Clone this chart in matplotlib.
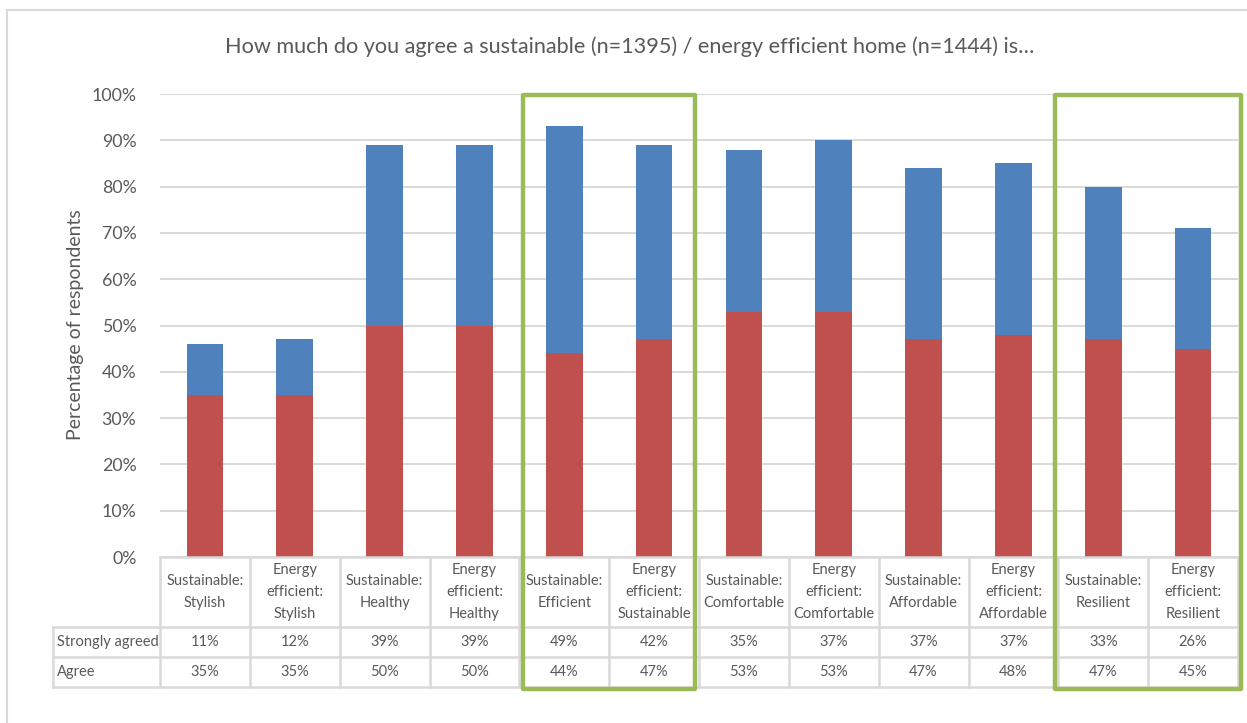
import matplotlib
matplotlib.use("Agg")
import matplotlib.pyplot as plt
from matplotlib.patches import Rectangle
from matplotlib.lines import Line2D
from matplotlib.transforms import blended_transform_factory
from matplotlib.ticker import PercentFormatter

plt.rcParams['font.family'] = ['Lato', 'DejaVu Sans']

# ---- data ----
categories = [
    "Sustainable:\nStylish", "Energy\nefficient:\nStylish",
    "Sustainable:\nHealthy", "Energy\nefficient:\nHealthy",
    "Sustainable:\nEfficient", "Energy\nefficient:\nSustainable",
    "Sustainable:\nComfortable", "Energy\nefficient:\nComfortable",
    "Sustainable:\nAffordable", "Energy\nefficient:\nAffordable",
    "Sustainable:\nResilient", "Energy\nefficient:\nResilient",
]
strongly_agreed = [11, 12, 39, 39, 49, 42, 35, 37, 37, 37, 33, 26]
agree = [35, 35, 50, 50, 44, 47, 53, 53, 47, 48, 47, 45]
row_labels = ["Strongly agreed", "Agree"]
highlight_groups = [(4, 5), (10, 11)]
title = "How much do you agree a sustainable (n=1395) / energy efficient home (n=1444) is\u2026"
ylabel = "Percentage of respondents"

# ---- style ----
RED = "#C0504D"
BLUE = "#4F81BD"
GREEN = "#9BBB59"
GRID = "#D9D9D9"
TEXT = "#595959"

W, H = 1247, 723
fig = plt.figure(figsize=(W / 100, H / 100), dpi=100)


def fx(p):
    return p / W


def fy(p):
    return 1 - p / H


# outer chart frame
fig.add_artist(Line2D([fx(7), fx(7)], [fy(10), 0], color=GRID, lw=1.5))
fig.add_artist(Line2D([fx(7), 1], [fy(10), fy(10)], color=GRID, lw=1.5))

# plot area
left_px, right_px, top_px, bottom_px = 160, 1238, 94, 557
ax = fig.add_axes([fx(left_px), fy(bottom_px),
                   (right_px - left_px) / W, (bottom_px - top_px) / H])
n = len(categories)
x = list(range(n))
agree_f = [v / 100 for v in agree]
strong_f = [v / 100 for v in strongly_agreed]
ax.bar(x, agree_f, width=0.41, color=RED, zorder=3)
ax.bar(x, strong_f, bottom=agree_f, width=0.41, color=BLUE, zorder=3)
ax.set_xlim(-0.5, n - 0.5)
ax.set_ylim(0, 1.0)
ax.set_yticks([i / 10 for i in range(11)])
ax.yaxis.set_major_formatter(PercentFormatter(1.0, decimals=0))
ax.set_xticks([])
ax.tick_params(axis='y', length=0, pad=17, labelsize=12.8, labelcolor=TEXT)
ax.grid(axis='y', color=GRID, lw=1.4, zorder=0)
for s in ax.spines.values():
    s.set_visible(False)

fig.text(fx(75), fy(325), ylabel, rotation=90, ha='center', va='center',
         fontsize=14, color=TEXT)
fig.text(fx(630), fy(47), title, ha='center', va='center', fontsize=15.6,
         color=TEXT)

# data table below the bars
col_w = (right_px - left_px) / n
lab_px = 53
xmin = -0.5 - (left_px - lab_px) / col_w
tab_bottom = 687
tab = fig.add_axes([fx(lab_px), fy(tab_bottom),
                    (right_px - lab_px) / W, (tab_bottom - bottom_px) / H])
tab.set_xlim(xmin, n - 0.5)
tab.set_ylim(tab_bottom - bottom_px, 0)
tab.axis('off')
hdr, rh = 70, 30
lw_t = 1.8
tab.plot([-0.5, n - 0.5], [0, 0], color=GRID, lw=lw_t, clip_on=False)
for yy in (hdr, hdr + rh, hdr + 2 * rh):
    tab.plot([xmin, n - 0.5], [yy, yy], color=GRID, lw=lw_t, clip_on=False)
for k in range(n + 1):
    tab.plot([k - 0.5, k - 0.5], [0, hdr + 2 * rh], color=GRID, lw=lw_t,
             clip_on=False)
tab.plot([xmin, xmin], [hdr, hdr + 2 * rh], color=GRID, lw=lw_t, clip_on=False)

for i, cat in enumerate(categories):
    tab.text(i, hdr / 2, cat, ha='center', va='center', fontsize=10.5,
             color=TEXT, linespacing=1.7)
    tab.text(i, hdr + rh / 2, f"{strongly_agreed[i]}%", ha='center',
             va='center', fontsize=10.5, color=TEXT)
    tab.text(i, hdr + 1.5 * rh, f"{agree[i]}%", ha='center', va='center',
             fontsize=10.5, color=TEXT)
for r, lab in enumerate(row_labels):
    tab.text(xmin + 0.04, hdr + (r + 0.5) * rh, lab, ha='left', va='center',
             fontsize=10.5, color=TEXT)

# highlight boxes around paired categories
trans = blended_transform_factory(ax.transData, fig.transFigure)
box_pads = [(0.04, -0.045), (-0.037, 0.034)]
for (a, b), (d0, d1) in zip(highlight_groups, box_pads):
    x0 = a - 0.5 + d0
    x1 = b + 0.5 + d1
    y0, y1 = fy(689), fy(95)
    fig.add_artist(Rectangle((x0, y0), x1 - x0, y1 - y0, transform=trans,
                             fill=False, edgecolor=GREEN, lw=3.2,
                             joinstyle='round', zorder=10, clip_on=False))

fig.savefig("out.png", dpi=100, facecolor="white")
